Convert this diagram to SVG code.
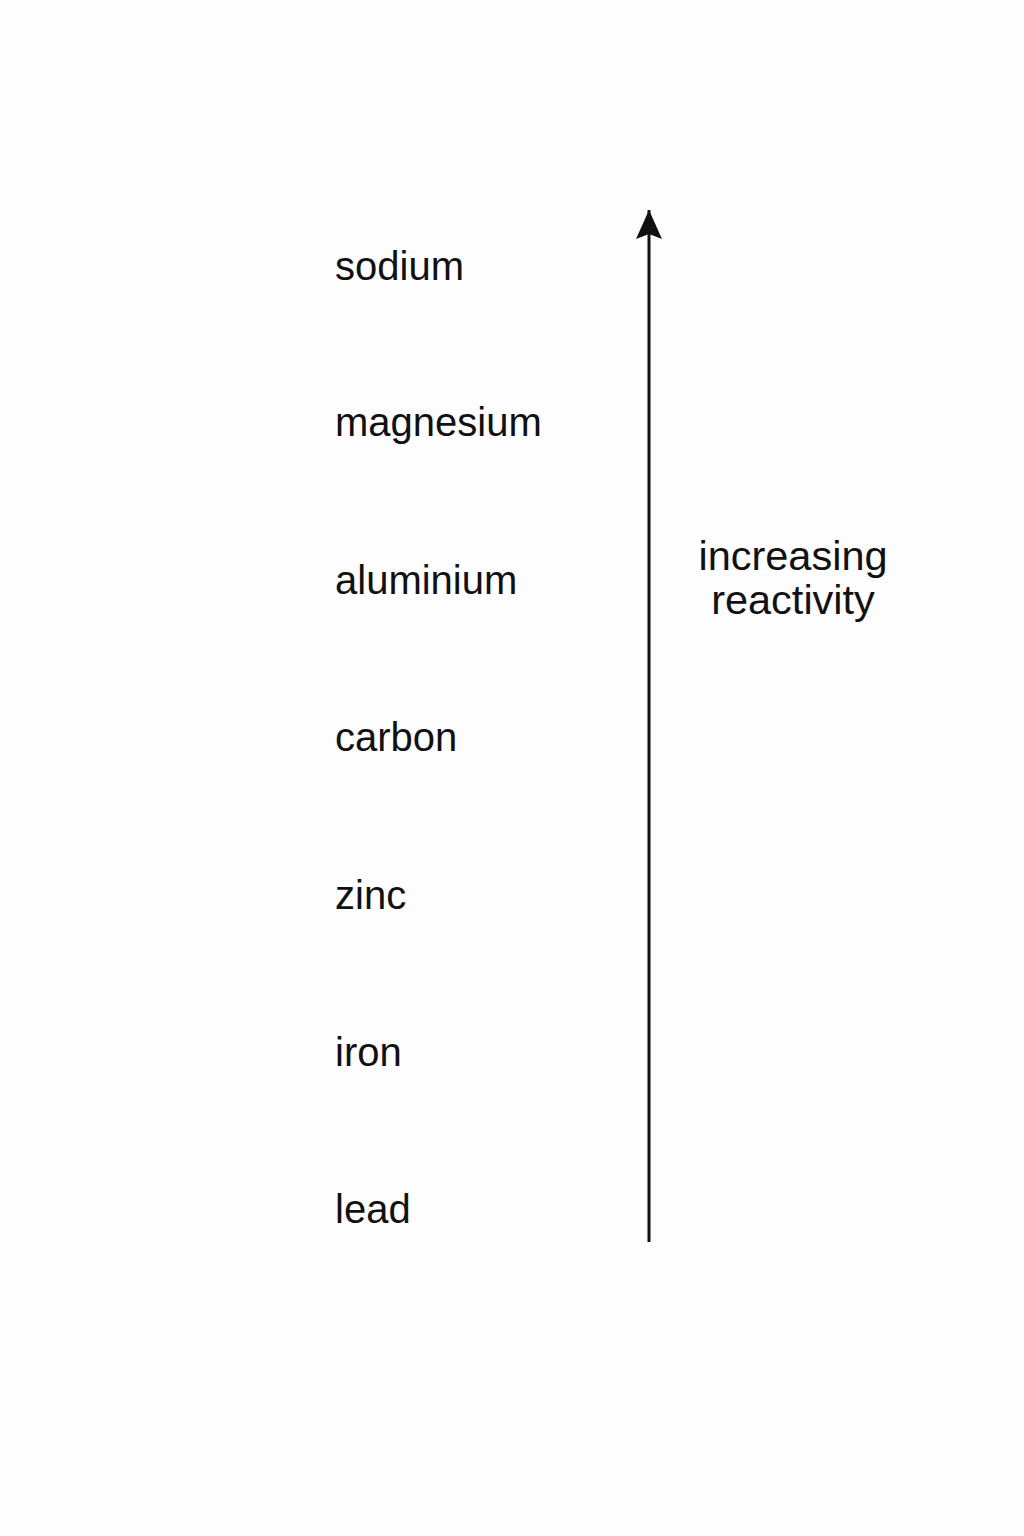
<svg xmlns="http://www.w3.org/2000/svg" width="1024" height="1536" viewBox="0 0 1024 1536">
<style>
.lbl{font-family:"Liberation Sans",Arial,sans-serif;font-size:40px;fill:#111}
.ax{font-family:"Liberation Sans",Arial,sans-serif;font-size:41.5px;fill:#111}
</style>
<defs>
<marker id="ah" markerWidth="30" markerHeight="26" refX="29" refY="13" orient="auto" markerUnits="userSpaceOnUse" viewBox="0 0 30 26">
<path d="M29,13 L0,0 L5,13 L0,26 Z" fill="#111"/>
</marker>
</defs>
<rect width="1024" height="1536" fill="#fdfdfd"/>
<g id="connectors">
<line x1="649" y1="1242" x2="649" y2="210" stroke="#111" stroke-width="3" marker-end="url(#ah)"/>
</g>
<g id="n-sodium"><text class="lbl" x="335" y="280">sodium</text></g>
<g id="n-magnesium"><text class="lbl" x="335" y="436">magnesium</text></g>
<g id="n-aluminium"><text class="lbl" x="335" y="594">aluminium</text></g>
<g id="n-carbon"><text class="lbl" x="335" y="751">carbon</text></g>
<g id="n-zinc"><text class="lbl" x="335" y="909">zinc</text></g>
<g id="n-iron"><text class="lbl" x="335" y="1066">iron</text></g>
<g id="n-lead"><text class="lbl" x="335" y="1223">lead</text></g>
<g id="n-label"><text class="ax" x="793" y="570" text-anchor="middle">increasing</text><text class="ax" x="793" y="614" text-anchor="middle">reactivity</text></g>
</svg>
